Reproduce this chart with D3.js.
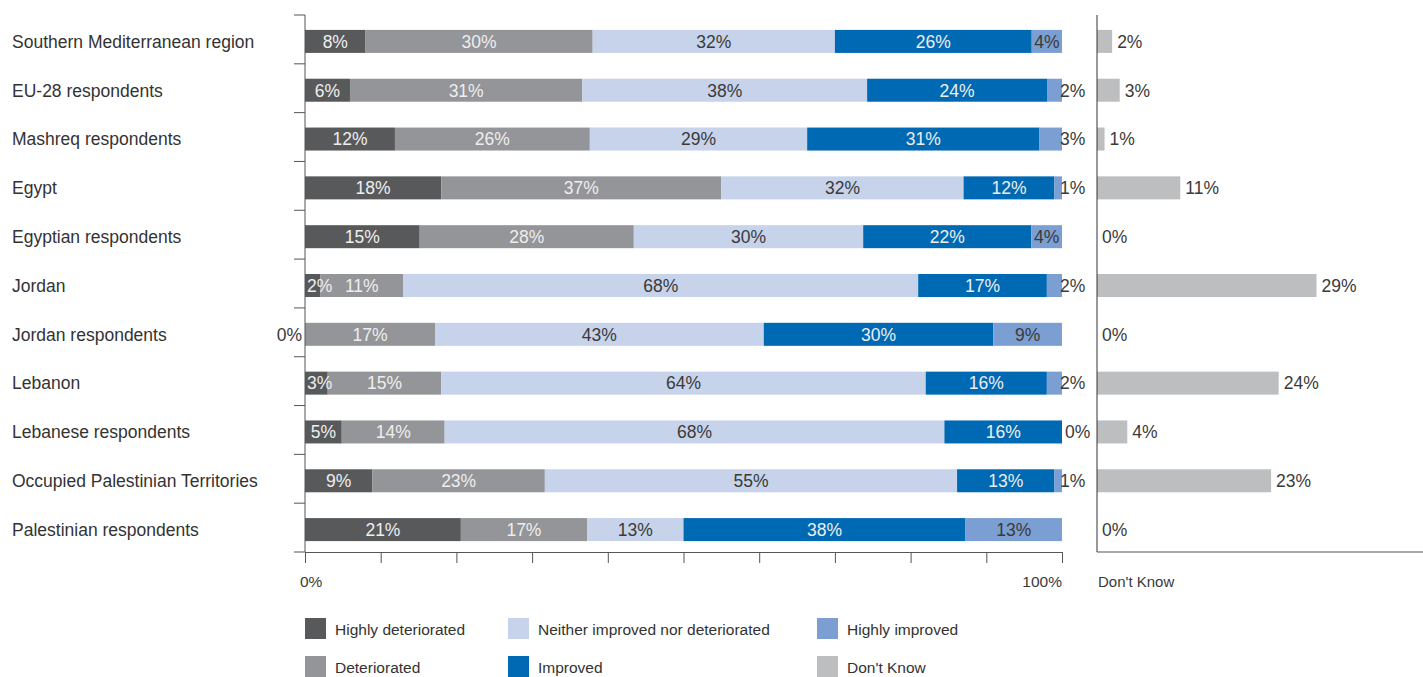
<!DOCTYPE html>
<html><head><meta charset="utf-8">
<script src="https://cdn.jsdelivr.net/npm/d3@7"></script>
<style>body{margin:0;background:#fff;}svg text{font-family:"Liberation Sans",Arial,sans-serif;}</style>
</head><body><svg id="chart" width="1423" height="677"></svg>
<script>
const categories = ["Southern Mediterranean region","EU-28 respondents","Mashreq respondents","Egypt","Egyptian respondents","Jordan","Jordan respondents","Lebanon","Lebanese respondents","Occupied Palestinian Territories","Palestinian respondents"];
const seriesNames = ["Highly deteriorated","Deteriorated","Neither improved nor deteriorated","Improved","Highly improved"];
const highlyDeteriorated = [8,6,12,18,15,2,0,3,5,9,21];
const deteriorated       = [30,31,26,37,28,11,17,15,14,23,17];
const neither            = [32,38,29,32,30,68,43,64,68,55,13];
const improved           = [26,24,31,12,22,17,30,16,16,13,38];
const highlyImproved     = [4,2,3,1,4,2,9,2,0,1,13];
const dontKnow           = [2,3,1,11,0,29,0,24,4,23,0];
const xTickLabels = ["0%","100%"];
const dkLabel = "Don't Know";

const colors = ["#58595b","#939598","#c6d3ea","#0069b4","#7b9fd2"];
const dkColor = "#bcbec0";
const labelColors = ["#eeeeee","#eeeeee","#3a3a3a","#eeeeee","#3a3a3a"];

const seriesArrays = [highlyDeteriorated,deteriorated,neither,improved,highlyImproved];
const rows = categories.map((c,i)=>{const o={cat:c};seriesNames.forEach((s,j)=>o[s]=seriesArrays[j][i]);o.dk=dontKnow[i];return o;});

const svg = d3.select("#chart");
const x = d3.scaleLinear().domain([0,1]).range([305,1062]);
const y = d3.scaleBand().domain(categories).range([15,552]).paddingInner(0).paddingOuter(0);
const barH = 23;
const barY = d => y(d) + (y.bandwidth()-barH)/2 + 2;
const labFS = 17.5;

const stack = d3.stack().keys(seriesNames).offset(d3.stackOffsetExpand);
const stacked = stack(rows);

stacked.forEach((layer,j)=>{
  svg.append("g").selectAll("rect").data(layer).join("rect")
    .attr("x",d=>x(d[0])).attr("y",d=>barY(d.data.cat))
    .attr("width",d=>Math.max(0,x(d[1])-x(d[0]))).attr("height",barH)
    .attr("fill",colors[j]);
});

stacked.forEach((layer,j)=>{
  const g = svg.append("g");
  layer.forEach(d=>{
    const v = d.data[seriesNames[j]];
    const x0 = x(d[0]), x1 = x(d[1]), w = x1-x0;
    const t = g.append("text").text(v+"%")
      .attr("y",barY(d.data.cat)+barH/2).attr("dy","0.36em")
      .attr("font-size",labFS);
    const tw = t.node().getComputedTextLength();
    let fill = labelColors[j], anchor="middle", tx=(x0+x1)/2;
    if (v===0) {
      fill="#3a3a3a";
      if (j===0){anchor="end";tx=x0-3;} else {anchor="start";tx=x1+3;}
    } else if (tw > w-2) {
      if (j===0){anchor="start";tx=x0+2;}
      else if (j===seriesNames.length-1){anchor="start";tx=Math.max(x0+2,x1-2);fill="#3a3a3a";}
    }
    t.attr("x",tx).attr("text-anchor",anchor).attr("fill",fill);
  });
});

const axisColor="#555";
const leftAx = svg.append("g");
leftAx.append("line").attr("x1",305).attr("x2",305).attr("y1",15).attr("y2",552).attr("stroke",axisColor);
const bounds = categories.map(c=>y(c)).concat([y.range()[1]]);
leftAx.selectAll("line.t").data(bounds).join("line").attr("class","t")
  .attr("x1",294).attr("x2",305).attr("y1",d=>d).attr("y2",d=>d).attr("stroke",axisColor);

const bottom = svg.append("g").attr("transform","translate(0,552)")
  .call(d3.axisBottom(x).tickValues(d3.range(0,1.0001,0.1)).tickSize(11).tickFormat(""));
bottom.select(".domain").attr("stroke",axisColor);
bottom.selectAll(".tick line").attr("stroke",axisColor);
svg.append("text").text(xTickLabels[0]).attr("x",300).attr("y",587).attr("font-size",15.5).attr("fill","#3a3a3a");
svg.append("text").text(xTickLabels[1]).attr("x",1062).attr("y",587).attr("text-anchor","end").attr("font-size",15.5).attr("fill","#3a3a3a");

svg.append("g").selectAll("text").data(categories).join("text")
  .text(d=>d).attr("x",12).attr("y",d=>barY(d)+barH/2).attr("dy","0.36em")
  .attr("font-size",17.5).attr("fill","#333");

const xd = d3.scaleLinear().domain([0,43]).range([1097,1097+43*7.57]);
svg.append("g").selectAll("rect").data(rows).join("rect")
  .attr("x",xd(0)).attr("y",d=>barY(d.cat)).attr("width",d=>xd(d.dk)-xd(0)).attr("height",barH).attr("fill",dkColor);
svg.append("g").selectAll("text").data(rows).join("text")
  .text(d=>d.dk+"%").attr("x",d=>xd(d.dk)+5).attr("y",d=>barY(d.cat)+barH/2).attr("dy","0.36em")
  .attr("font-size",labFS).attr("fill","#3a3a3a");
svg.append("line").attr("x1",1097).attr("x2",1097).attr("y1",15).attr("y2",552).attr("stroke","#333");
svg.append("line").attr("x1",1097).attr("x2",1423).attr("y1",552).attr("y2",552).attr("stroke",axisColor);
svg.append("text").text(dkLabel).attr("x",1098).attr("y",587).attr("font-size",15).attr("fill","#3a3a3a");

const legendItems = seriesNames.map((s,i)=>({name:s,color:colors[i]})).concat([{name:"Don't Know",color:dkColor}]);
const legX=[305,508,817];
const legY=[618,656];
const lg = svg.append("g").selectAll("g").data(legendItems).join("g")
  .attr("transform",(d,i)=>`translate(${legX[Math.floor(i/2)]},${legY[i%2]})`);
lg.append("rect").attr("width",21).attr("height",21).attr("fill",d=>d.color);
lg.append("text").text(d=>d.name).attr("x",30).attr("y",11).attr("dy","0.36em").attr("font-size",15.5).attr("fill","#333");
</script></body></html>
